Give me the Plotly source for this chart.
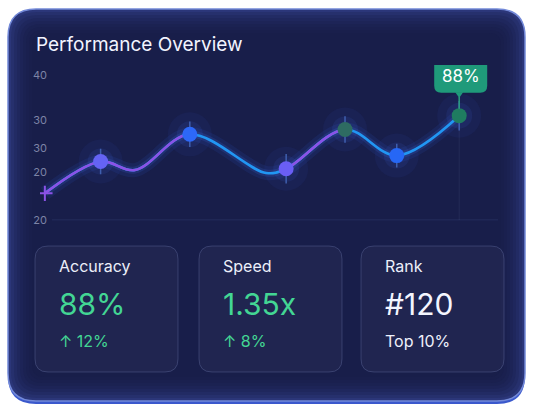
import plotly.graph_objects as go

W, H = 535, 413

# ---- data ----
# curve through the plotted points (x = position along the period, y = score on the chart scale)
x_vals = [-1.6, 10.9, 18.6, 30.9, 48.0, 52.5, 65.7, 77.3, 91.3]
y_vals = [17.3, 37.8, 32.3, 55.3, 30.4, 33.1, 58.4, 41.6, 67.3]
point_idx = [1, 3, 5, 6, 7, 8]          # which entries carry a marker
spread = [8.2, 8.2, 9.5, 8.5, 7.6, 9.5]  # whisker half-length per marker

y_tickvals = [0, 31.0, 46.4, 64.7, 93.7]
y_ticktext = ["20", "20", "30", "30", "40"]

highlight_text = "88%"

stat_labels = ["Accuracy", "Speed", "Rank"]
stat_values = ["88%", "1.35x", "#120"]
stat_subs = ["\u2191 12%", "\u2191 8%", "Top 10%"]

# ---- styling ----
FONT = "Inter"
GREEN = "#43d694"
PURPLE = "#8b52e6"
BLUE = "#2196f3"
marker_colors = ["#6463f4", "#2d68f8", "#6a5ef5", "#2e6b62", "#2667f5", "#1f7c60"]
stat_colors = [GREEN, GREEN, "#f4f6ff"]
sub_colors = [GREEN, GREEN, "#eef0fb"]

# pixel <-> data mapping of the chart area
X0_PX, PX_X = 52, 4.46
Y0_PX, PX_Y = 224, 1.58


def xv(px):
    return (px - X0_PX) / PX_X


def rr(left, top, right, bottom, r):
    dy = 1 if bottom > top else -1
    return (f"M {left + r},{top} L {right - r},{top} Q {right},{top} {right},{top + dy * r} "
            f"L {right},{bottom - dy * r} Q {right},{bottom} {right - r},{bottom} "
            f"L {left + r},{bottom} Q {left},{bottom} {left},{bottom - dy * r} "
            f"L {left},{top + dy * r} Q {left},{top} {left + r},{top} Z")


def px_shape(x0, y0, x1, y1, r, **kw):
    # rounded rect in page pixels
    return dict(type="path", xref="paper", yref="paper", xsizemode="pixel", ysizemode="pixel",
                xanchor=0, yanchor=1, path=rr(x0, -y0, x1, -y1, r), layer="below", **kw)


shapes = []
# tablet rim and body
shapes.append(px_shape(8, 13, 525, 404, 28, fillcolor="#3a58cc", line=dict(width=0)))
shapes.append(px_shape(8, 9, 525, 401, 28, fillcolor="#2b3679", line=dict(color="#7389d8", width=1.5)))
for i in range(1, 9):
    shapes.append(px_shape(8 + 3 * i, 9 + 3 * i, 525 - 3 * i, 401 - 3 * i, max(28 - 2 * i, 10),
                           fillcolor="#151a44", opacity=0.22, line=dict(width=0)))
# stat cards
card_left = [35, 199, 361]
for cl in card_left:
    shapes.append(px_shape(cl, 246, cl + 143, 372, 13, fillcolor="rgba(255,255,255,0.035)",
                           line=dict(color="rgba(160,175,230,0.22)", width=1)))

px_last, py_last = x_vals[-1], y_vals[-1]
# baseline and drop line
shapes.append(dict(type="line", xref="x", yref="y", x0=0, x1=100, y0=0, y1=0,
                   line=dict(color="rgba(110,130,200,0.30)", width=1), layer="below"))
shapes.append(dict(type="line", xref="x", yref="y", x0=px_last, x1=px_last, y0=0, y1=py_last,
                   line=dict(color="rgba(200,210,255,0.07)", width=1), layer="below"))
# callout bubble
shapes.append(dict(type="path", xref="x", yref="y", xsizemode="pixel", ysizemode="pixel",
                   xanchor=px_last, yanchor=py_last, path=rr(-25, 57, 28, 23, 7),
                   fillcolor="#1f9a7a", line=dict(width=0), layer="above"))
shapes.append(dict(type="path", xref="x", yref="y", xsizemode="pixel", ysizemode="pixel",
                   xanchor=px_last, yanchor=py_last, path="M -4,23.5 L 4,23.5 L 0,18 Z",
                   fillcolor="#1f9a7a", line=dict(width=0), layer="above"))
shapes.append(dict(type="line", xref="x", yref="y", xsizemode="pixel", ysizemode="pixel",
                   xanchor=px_last, yanchor=py_last, x0=0, x1=0, y0=19, y1=7,
                   line=dict(color="#2a9e7e", width=1.5), layer="above"))

fig = go.Figure()

# glow under the curve
fig.add_trace(go.Scatter(x=x_vals, y=y_vals, mode="lines", line=dict(shape="spline", width=14, color="rgba(60,110,255,0.09)", simplify=False), hoverinfo="skip"))
fig.add_trace(go.Scatter(x=x_vals, y=y_vals, mode="lines", line=dict(shape="spline", width=7, color="rgba(70,130,255,0.14)", simplify=False), hoverinfo="skip"))
mx = [x_vals[i] for i in point_idx]
my = [y_vals[i] for i in point_idx]
fig.add_trace(go.Scatter(x=mx, y=my, mode="markers", marker=dict(size=44, color="rgba(70,110,255,0.06)"), hoverinfo="skip"))
fig.add_trace(go.Scatter(x=mx, y=my, mode="markers", marker=dict(size=26, color="rgba(80,120,255,0.09)"), hoverinfo="skip"))
# main curve (blue), then purple stretches clipped by narrower twin axes
fig.add_trace(go.Scatter(x=x_vals, y=y_vals, mode="lines", line=dict(shape="spline", width=2.6, color=BLUE, simplify=False), hoverinfo="skip"))
fig.add_trace(go.Scatter(x=x_vals, y=y_vals, mode="lines", xaxis="x2", line=dict(shape="spline", width=2.6, color=PURPLE, simplify=False), hoverinfo="skip"))
fig.add_trace(go.Scatter(x=x_vals, y=y_vals, mode="lines", xaxis="x3", line=dict(shape="spline", width=2.6, color=PURPLE, simplify=False), hoverinfo="skip"))
# whiskers and markers
fig.add_trace(go.Scatter(x=mx, y=my, mode="markers", xaxis="x4", marker=dict(size=1, color="rgba(0,0,0,0)"),
                         error_y=dict(type="data", array=spread, symmetric=True, color="#3f5faf", thickness=1.5, width=0),
                         hoverinfo="skip"))
fig.add_trace(go.Scatter(x=[x_vals[0]], y=[y_vals[0]], mode="markers", xaxis="x4",
                         marker=dict(symbol="cross-thin", size=11, line=dict(color=PURPLE, width=2)), hoverinfo="skip"))
fig.add_trace(go.Scatter(x=mx, y=my, mode="markers", xaxis="x4", marker=dict(size=15, color=marker_colors, line=dict(width=0)), hoverinfo="skip"))

annotations = [
    dict(text="Performance Overview", xref="paper", yref="paper", x=34 / W, y=1 - 45 / H,
         xanchor="left", yanchor="middle", showarrow=False, font=dict(family=FONT, size=19, color="#f2f4ff")),
    dict(text=highlight_text, xref="x4", yref="y", x=px_last, y=py_last, xshift=1.5, yshift=40,
         showarrow=False, font=dict(family=FONT, size=17, color="#ffffff")),
]
for cl, lab, val, sub, vc, sc in zip(card_left, stat_labels, stat_values, stat_subs, stat_colors, sub_colors):
    tx = (cl + 22) / W
    annotations.append(dict(text=lab, xref="paper", yref="paper", x=tx, y=1 - 271 / H, xanchor="left", yanchor="middle",
                            showarrow=False, font=dict(family=FONT, size=16, color="#eceffa")))
    annotations.append(dict(text=val, xref="paper", yref="paper", x=tx, y=1 - 309 / H, xanchor="left", yanchor="middle",
                            showarrow=False, font=dict(family=FONT, size=30, color=vc)))
    annotations.append(dict(text=sub, xref="paper", yref="paper", x=tx, y=1 - 347 / H, xanchor="left", yanchor="middle",
                            showarrow=False, font=dict(family=FONT, size=16, color=sc)))

ydom = [1 - Y0_PX / H, 1 - (Y0_PX - 100 * PX_Y) / H]
hidden = dict(visible=False, showgrid=False, zeroline=False, anchor="y", fixedrange=True)

fig.update_layout(
    width=W, height=H,
    margin=dict(l=0, r=0, t=0, b=0),
    paper_bgcolor="#ffffff", plot_bgcolor="rgba(0,0,0,0)",
    showlegend=False,
    xaxis=dict(domain=[40 / W, 498 / W], range=[xv(40), xv(498)], **hidden),
    xaxis2=dict(domain=[40 / W, 190 / W], range=[xv(40), xv(190)], **hidden),
    xaxis3=dict(domain=[286 / W, 345 / W], range=[xv(286), xv(345)], **hidden),
    xaxis4=dict(domain=[40 / W, 498 / W], range=[xv(40), xv(498)], **hidden),
    yaxis=dict(domain=ydom, range=[0, 100], tickvals=y_tickvals, ticktext=y_ticktext,
               showgrid=False, zeroline=False, showline=False, ticks="", ticklabelstandoff=-8,
               tickfont=dict(family=FONT, size=11, color="#7d84a6"), fixedrange=True),
    shapes=shapes,
    annotations=annotations,
)

fig.write_html("out.html", config={"displayModeBar": False},
               post_script="document.body.style.margin='0';document.body.style.overflow='hidden';")
